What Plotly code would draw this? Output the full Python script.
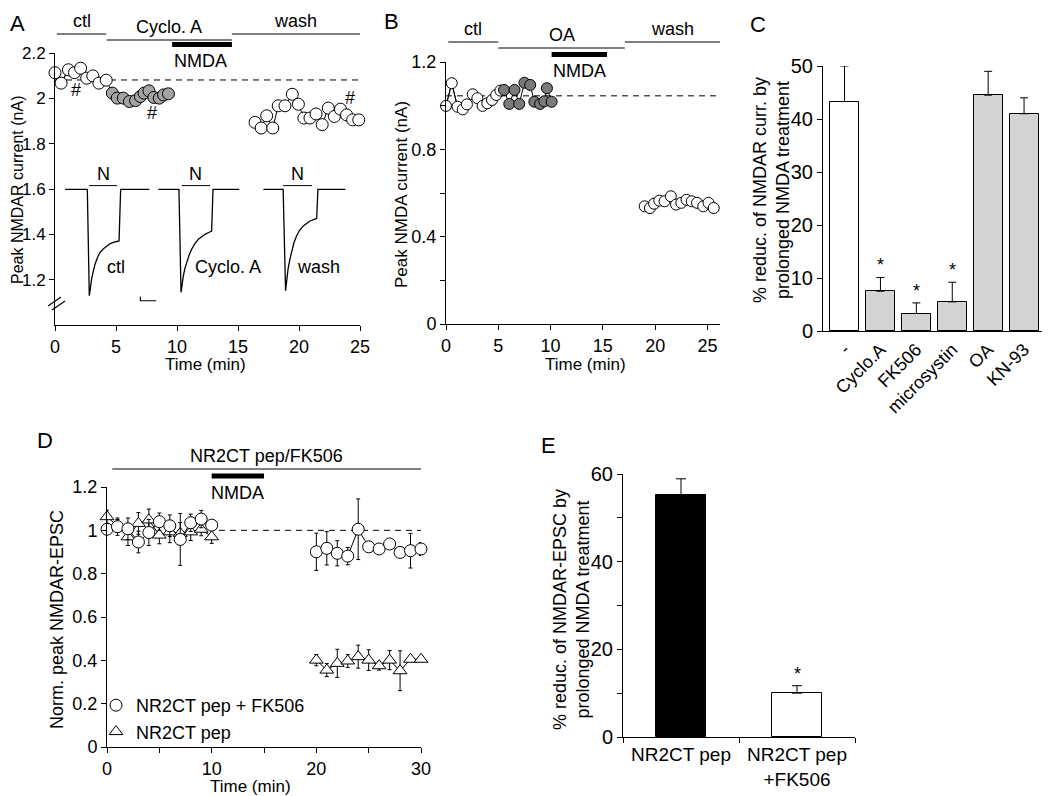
import plotly.graph_objects as go

# The page body has an 8px margin, so the figure is sized to fill the rest of the window.
OFF = 8
W, H = 1050 - OFF, 796 - OFF
FONT = "Liberation Sans, Arial, Helvetica, sans-serif"

# ---------------- Panel A data ----------------
A_ctl_t = [0.0, 0.5, 1.1, 1.6, 2.1, 2.6, 3.1, 3.6, 4.2]
A_ctl_i = [2.113, 2.067, 2.126, 2.113, 2.133, 2.089, 2.099, 2.067, 2.080]
A_cyc_t = [4.7, 5.1, 5.6, 6.1, 6.6, 7.0, 7.3, 7.7, 8.1, 8.55, 8.9, 9.3]
A_cyc_i = [2.023, 2.001, 2.001, 1.986, 1.990, 2.008, 2.023, 2.033, 2.004, 2.001, 2.015, 2.020]
A_wash_t = [16.4, 16.9, 17.35, 17.85, 18.3, 18.85, 19.45, 19.95, 20.4, 20.9, 21.4, 21.9,
            22.4, 22.9, 23.4, 23.9, 24.4, 24.9]
A_wash_i = [1.894, 1.869, 1.923, 1.869, 1.967, 1.967, 2.018, 1.974, 1.913, 1.913, 1.931, 1.884,
            1.957, 1.920, 1.952, 1.927, 1.905, 1.905]
A_baseline = 2.081
A_hash_t = [1.72, 7.95, 24.2]
A_hash_i = [2.037, 1.936, 2.002]
A_yticks = [1.2, 1.4, 1.6, 1.8, 2.0, 2.2]
A_yticktext = ["1.2", "1.4", "1.6", "1.8", "2", "2.2"]
A_xticks = [0, 5, 10, 15, 20, 25]
A_periods = [("ctl", 0.15, 4.2), ("Cyclo. A", 4.25, 14.5), ("wash", 14.5, 25.0)]
A_nmda = (9.6, 14.5)

# example current traces (inset), drawn in the panel's own coordinates
A_tr_ctl_t = [0.82, 2.65, 2.81, 2.9, 3.0, 3.15, 3.28, 3.5, 3.69, 4.0, 4.24, 4.5, 4.78, 5.25, 5.38, 7.73]
A_tr_ctl_i = [1.598, 1.598, 1.129, 1.17, 1.202, 1.24, 1.268, 1.300, 1.320, 1.338, 1.349, 1.358,
              1.364, 1.371, 1.598, 1.598]
A_tr_cyc_t = [8.47, 10.16, 10.33, 10.42, 10.52, 10.65, 10.8, 11.0, 11.2, 11.45, 11.75, 12.0, 12.3,
              12.6, 12.84, 12.95, 15.1]
A_tr_cyc_i = [1.598, 1.598, 1.144, 1.19, 1.217, 1.25, 1.276, 1.31, 1.334, 1.358, 1.378, 1.39, 1.40,
              1.408, 1.414, 1.598, 1.598]
A_tr_wash_t = [17.08, 18.7, 18.9, 19.0, 19.1, 19.25, 19.4, 19.6, 19.8, 20.05, 20.35, 20.6, 20.9,
               21.2, 21.45, 21.55, 23.8]
A_tr_wash_i = [1.598, 1.598, 1.151, 1.2, 1.246, 1.29, 1.327, 1.365, 1.393, 1.418, 1.437, 1.449,
               1.459, 1.465, 1.470, 1.598, 1.598]
A_tr_labels = ["ctl", "Cyclo. A", "wash"]
A_tr_label_t = [5.0, 14.2, 21.6]
A_tr_label_i = 1.255
A_N_bars = [(2.79, 5.08), (10.4, 12.7), (18.7, 21.07)]
A_N_i = 1.615
A_scale_t = [7.0, 7.0, 8.3]
A_scale_i = [1.125, 1.107, 1.107]

# ---------------- Panel B data ----------------
B_ctl_t = [0.0, 0.55, 1.1, 1.6, 2.0, 2.55, 3.0, 3.5, 3.95, 4.4, 4.8, 5.2]
B_ctl_i = [0.999, 1.103, 0.995, 0.983, 1.006, 1.052, 1.034, 0.999, 1.011, 1.026, 1.049, 1.069]
B_oa_t = [5.55, 6.05, 6.55, 7.0, 7.5, 8.05, 8.45, 9.0, 9.4, 9.65, 10.1]
B_oa_i = [1.072, 1.008, 1.072, 1.008, 1.105, 1.095, 1.018, 1.008, 1.020, 1.080, 1.018]
B_wash_t = [19.0, 19.5, 19.9, 20.4, 20.9, 21.5, 22.0, 22.5, 23.0, 23.5, 24.0, 24.6, 25.1, 25.6]
B_wash_i = [0.539, 0.531, 0.551, 0.565, 0.562, 0.585, 0.547, 0.555, 0.569, 0.562, 0.555, 0.539,
            0.555, 0.531]
B_baseline = 1.045
B_yticks = [0, 0.2, 0.4, 0.6, 0.8, 1.0, 1.2]
B_yticktext = ["0", "", "0.4", "", "0.8", "", "1.2"]
B_xticks = [0, 5, 10, 15, 20, 25]
B_periods = [("ctl", 0.22, 5.0), ("OA", 5.0, 17.1), ("wash", 17.1, 26.2)]
B_nmda = (10.1, 15.4)

# ---------------- Panel C data ----------------
C_cats = ["-", "Cyclo.A", "FK506", "microsystin", "OA", "KN-93"]
C_vals = [43.3, 7.5, 3.3, 5.5, 44.5, 41.0]
C_err = [6.7, 2.6, 2.0, 3.7, 4.5, 3.0]
C_sig = [False, True, True, True, False, False]
C_yticks = [0, 10, 20, 30, 40, 50]

# ---------------- Panel D data ----------------
D_t1 = [0, 1, 2, 3, 4, 5, 6, 7, 8, 9, 10]
D_t2 = [20, 21, 22, 23, 24, 25, 26, 27, 28, 29, 30]
D_fk_1 = [1.005, 1.017, 1.007, 0.946, 0.990, 1.040, 1.021, 0.958, 1.035, 1.052, 1.024]
D_fk_err1 = [0.02, 0.04, 0.05, 0.05, 0.06, 0.04, 0.05, 0.12, 0.04, 0.04, 0.02]
D_fk_2 = [0.901, 0.917, 0.894, 0.881, 1.005, 0.924, 0.914, 0.937, 0.898, 0.906, 0.914]
D_fk_err2 = [0.086, 0.077, 0.058, 0.04, 0.14, 0.015, 0.015, 0.02, 0.02, 0.08, 0.03]
D_pep_1 = [1.063, 1.020, 0.970, 1.032, 1.048, 0.978, 0.993, 0.986, 0.993, 1.005, 0.970]
D_pep_err1 = [0.03, 0.03, 0.04, 0.05, 0.05, 0.04, 0.05, 0.05, 0.04, 0.03, 0.03]
D_pep_2 = [0.401, 0.355, 0.386, 0.397, 0.417, 0.401, 0.375, 0.401, 0.352, 0.405, 0.405]
D_pep_err2 = [0.026, 0.03, 0.065, 0.03, 0.053, 0.048, 0.02, 0.044, 0.092, 0.01, 0.01]
D_names = ["NR2CT pep + FK506", "NR2CT pep"]
D_baseline = 1.0
D_yticks = [0, 0.2, 0.4, 0.6, 0.8, 1.0, 1.2]
D_yticktext = ["0", "0.2", "0.4", "0.6", "0.8", "1", "1.2"]
D_xticks = [0, 5, 10, 15, 20, 25, 30]
D_xticktext = ["0", "", "10", "", "20", "", "30"]
D_period = ("NR2CT pep/FK506", 0.5, 30.0)
D_nmda = (10.0, 15.0)

# ---------------- Panel E data ----------------
E_cats = ["NR2CT pep", "NR2CT pep<br>+FK506"]
E_vals = [55.3, 10.0]
E_err = [3.6, 1.7]
E_sig = [False, True]
E_yticks = [0, 10, 20, 30, 40, 50, 60]
E_yticktext = ["0", "", "20", "", "40", "", "60"]


def px(x):
    return (x - OFF) / W


def py(y):
    return 1 - (y - OFF) / H


def axstyle(size=18, **kw):
    d = dict(showline=True, linecolor="black", linewidth=1, ticks="outside", ticklen=5,
             tickwidth=1, tickcolor="black", showgrid=False, zeroline=False, automargin=False,
             tickfont=dict(family=FONT, size=size, color="black"), fixedrange=True)
    d.update(kw)
    return d


fig = go.Figure()
MK = dict(line=dict(color="black", width=1))

# ---- Panel A traces ----
fig.add_trace(go.Scatter(x=A_ctl_t + A_cyc_t[:1], y=A_ctl_i + A_cyc_i[:1], mode="lines",
                         line=dict(color="black", width=1), xaxis="x", yaxis="y",
                         showlegend=False, hoverinfo="skip"))
for t, i, col in [(A_ctl_t, A_ctl_i, "white"), (A_cyc_t, A_cyc_i, "#a3a3a3"),
                  (A_wash_t, A_wash_i, "white")]:
    fig.add_trace(go.Scatter(x=t, y=i, mode="lines+markers", xaxis="x", yaxis="y",
                             line=dict(color="black", width=1),
                             marker=dict(symbol="circle", size=12, color=col, **MK),
                             showlegend=False, cliponaxis=False))
for t, i in [(A_tr_ctl_t, A_tr_ctl_i), (A_tr_cyc_t, A_tr_cyc_i), (A_tr_wash_t, A_tr_wash_i)]:
    fig.add_trace(go.Scatter(x=t, y=i, mode="lines", xaxis="x", yaxis="y",
                             line=dict(color="black", width=1.3), showlegend=False,
                             hoverinfo="skip"))
fig.add_trace(go.Scatter(x=A_scale_t, y=A_scale_i, mode="lines", xaxis="x", yaxis="y",
                         line=dict(color="black", width=1.2), showlegend=False, hoverinfo="skip"))

# ---- Panel B traces ----
fig.add_trace(go.Scatter(x=B_ctl_t + B_oa_t[:1], y=B_ctl_i + B_oa_i[:1], mode="lines",
                         line=dict(color="black", width=1), xaxis="x2", yaxis="y2",
                         showlegend=False, hoverinfo="skip"))
for t, i, col in [(B_ctl_t, B_ctl_i, "white"), (B_oa_t, B_oa_i, "#7a7a7a"),
                  (B_wash_t, B_wash_i, "white")]:
    fig.add_trace(go.Scatter(x=t, y=i, mode="lines+markers", xaxis="x2", yaxis="y2",
                             line=dict(color="black", width=1),
                             marker=dict(symbol="circle", size=11, color=col, **MK),
                             showlegend=False, cliponaxis=False))

# ---- Panel C bars ----
fig.add_trace(go.Bar(x=C_cats, y=C_vals, xaxis="x3", yaxis="y3", width=0.81,
                     marker=dict(color=["white"] + ["#d4d4d4"] * 5,
                                 line=dict(color="black", width=1)),
                     error_y=dict(type="data", symmetric=False, array=C_err,
                                  arrayminus=[0] * len(C_err), color="black",
                                  thickness=1, width=4),
                     showlegend=False))

# ---- Panel D traces ----
D_t = D_t1 + [None] + D_t2
for yv, ev, sym, name, rank in [(D_pep_1 + [None] + D_pep_2, D_pep_err1 + [0] + D_pep_err2,
                                 "triangle-up", D_names[1], 2),
                                (D_fk_1 + [None] + D_fk_2, D_fk_err1 + [0] + D_fk_err2,
                                 "circle", D_names[0], 1)]:
    fig.add_trace(go.Scatter(x=D_t, y=yv, mode="lines", xaxis="x4", yaxis="y4",
                             line=dict(color="black", width=1), showlegend=False,
                             hoverinfo="skip"))
    fig.add_trace(go.Scatter(x=D_t, y=yv, mode="markers", xaxis="x4", yaxis="y4",
                             name=name, legendrank=rank,
                             marker=dict(symbol=sym, size=12, color="white", **MK),
                             error_y=dict(type="data", array=ev, color="black", thickness=1,
                                          width=2),
                             cliponaxis=False))

# ---- Panel E bars ----
fig.add_trace(go.Bar(x=E_cats, y=E_vals, xaxis="x5", yaxis="y5", width=0.43,
                     marker=dict(color=["black", "white"], line=dict(color="black", width=1)),
                     error_y=dict(type="data", symmetric=False, array=E_err,
                                  arrayminus=[0] * len(E_err), color="black",
                                  thickness=1, width=5),
                     showlegend=False))

# ---------------- shapes & annotations ----------------
shapes = []
anns = []


def text(t, x, y, xref="paper", yref="paper", size=18, xanchor="center", yanchor="middle", **kw):
    d = dict(text=t, x=x, y=y, xref=xref, yref=yref, showarrow=False,
             xanchor=xanchor, yanchor=yanchor,
             font=dict(family=FONT, size=size, color="black"))
    d.update(kw)
    anns.append(d)


def hbar(x0, x1, ypix, xref, width=1):
    shapes.append(dict(type="line", xref=xref, yref="paper", x0=x0, x1=x1,
                       y0=py(ypix), y1=py(ypix), line=dict(color="black", width=width)))


# dashed baselines
for xr, yr, x0, x1, yv in [("x", "y", 0, 25, A_baseline), ("x2", "y2", 0, 26.2, B_baseline),
                           ("x4", "y4", 10.7, 30, D_baseline)]:
    shapes.append(dict(type="line", xref=xr, yref=yr, x0=x0, x1=x1, y0=yv, y1=yv, layer="below",
                       line=dict(color="black", width=1, dash="6px,5px")))

# Panel A period bars
for (lab, t0, t1), ypix in zip(A_periods, [34, 40, 34]):
    hbar(t0, t1, ypix, "x")
    text(lab, (t0 + t1) / 2, py(ypix - 1), xref="x", yanchor="bottom")
hbar(A_nmda[0], A_nmda[1], 44.5, "x", width=5)
text("NMDA", sum(A_nmda) / 2 - 0.1, py(49), xref="x", yanchor="top")
for t, i in zip(A_hash_t, A_hash_i):
    text("#", t, i, xref="x", yref="y")
for lab, t in zip(A_tr_labels, A_tr_label_t):
    text(lab, t, A_tr_label_i, xref="x", yref="y")
for t0, t1 in A_N_bars:
    shapes.append(dict(type="line", xref="x", yref="y", x0=t0, x1=t1, y0=A_N_i, y1=A_N_i,
                       line=dict(color="black", width=1)))
    text("N", (t0 + t1) / 2, A_N_i, xref="x", yref="y", yanchor="bottom")
# axis break marks
for dx in (0, 4):
    shapes.append(dict(type="line", xref="paper", yref="paper", x0=px(48 + dx), x1=px(61 + dx),
                       y0=py(306 + dx), y1=py(297 + dx), line=dict(color="black", width=1.2)))

# Panel B period bars
for (lab, t0, t1), ypix in zip(B_periods, [42, 48, 42]):
    hbar(t0, t1, ypix, "x2")
    text(lab, (t0 + t1) / 2, py(ypix - 1), xref="x2", yanchor="bottom")
hbar(B_nmda[0], B_nmda[1], 54.5, "x2", width=5)
text("NMDA", sum(B_nmda) / 2, py(59), xref="x2", yanchor="top")

# Panel C asterisks
for c, v, e, s in zip(C_cats, C_vals, C_err, C_sig):
    if s:
        text("*", c, v + e, xref="x3", yref="y3", yanchor="bottom", size=18)

# Panel D bars
hbar(D_period[1], D_period[2], 469, "x4")
text(D_period[0], 15.2, py(468), xref="x4", yanchor="bottom")
hbar(D_nmda[0], D_nmda[1], 476, "x4", width=5)
text("NMDA", sum(D_nmda) / 2, py(481), xref="x4", yanchor="top")

# Panel E asterisks
for c, v, e, s in zip(E_cats, E_vals, E_err, E_sig):
    if s:
        text("*", c, v + e, xref="x5", yref="y5", yanchor="bottom", size=18)

# panel letters
for lab, x, y in [("A", 17, 23), ("B", 391, 22), ("C", 758, 25), ("D", 45, 440), ("E", 548, 446)]:
    text(lab, px(x), py(y), size=22)

# axis titles
text("Peak NMDAR current (nA)", px(18), py(190), textangle=-90, size=16)
text("Time (min)", px(205), py(365), size=17)
text("Peak NMDA current (nA)", px(401), py(195), textangle=-90, size=17)
text("Time (min)", px(585), py(364), size=17)
text("% reduc. of NMDAR curr. by<br>prolonged NMDA treatment", px(772), py(190), textangle=-90)
text("Norm. peak NMDAR-EPSC", px(57), py(620), textangle=-90)
text("Time (min)", px(250), py(786), size=17)
text("% reduc. of NMDAR-EPSC by<br>prolonged NMDA treatment", px(571), py(610), textangle=-90)

fig.update_layout(
    width=W, height=H, margin=dict(l=0, r=0, t=0, b=0, pad=0, autoexpand=False),
    paper_bgcolor="white", plot_bgcolor="white",
    font=dict(family=FONT, size=18, color="black"),
    showlegend=True, bargap=0,
    legend=dict(x=px(96), y=py(687), xanchor="left", yanchor="top",
                bgcolor="rgba(0,0,0,0)", font=dict(family=FONT, size=18, color="black"),
                itemwidth=30, tracegroupgap=0),
    xaxis=axstyle(domain=[px(55), px(360)], range=[0, 25], tickvals=A_xticks, anchor="y"),
    yaxis=axstyle(size=17, domain=[py(325), py(53)], range=[1.0, 2.2], tickvals=A_yticks,
                  ticktext=A_yticktext, anchor="x"),
    xaxis2=axstyle(domain=[px(446), px(720)], range=[0, 26.2], tickvals=B_xticks, anchor="y2"),
    yaxis2=axstyle(domain=[py(324), py(62)], range=[0, 1.2], tickvals=B_yticks,
                   ticktext=B_yticktext, anchor="x2"),
    xaxis3=axstyle(domain=[px(823), px(1042)], range=[-0.6, 5.5], ticks="", tickangle=-45,
                   anchor="y3"),
    yaxis3=axstyle(size=20, domain=[py(331), py(66)], range=[0, 50], tickvals=C_yticks,
                   anchor="x3"),
    xaxis4=axstyle(domain=[px(107), px(421)], range=[0, 30], tickvals=D_xticks,
                   ticktext=D_xticktext, anchor="y4"),
    yaxis4=axstyle(domain=[py(747), py(487)], range=[0, 1.2], tickvals=D_yticks,
                   ticktext=D_yticktext, anchor="x4"),
    xaxis5=axstyle(size=19, domain=[px(623), px(855)], range=[-0.5, 1.5], tickson="boundaries",
                   anchor="y5"),
    yaxis5=axstyle(size=20, domain=[py(737), py(474)], range=[0, 60], tickvals=E_yticks,
                   ticktext=E_yticktext, anchor="x5"),
    shapes=shapes, annotations=anns,
)

fig.write_html("out.html")
